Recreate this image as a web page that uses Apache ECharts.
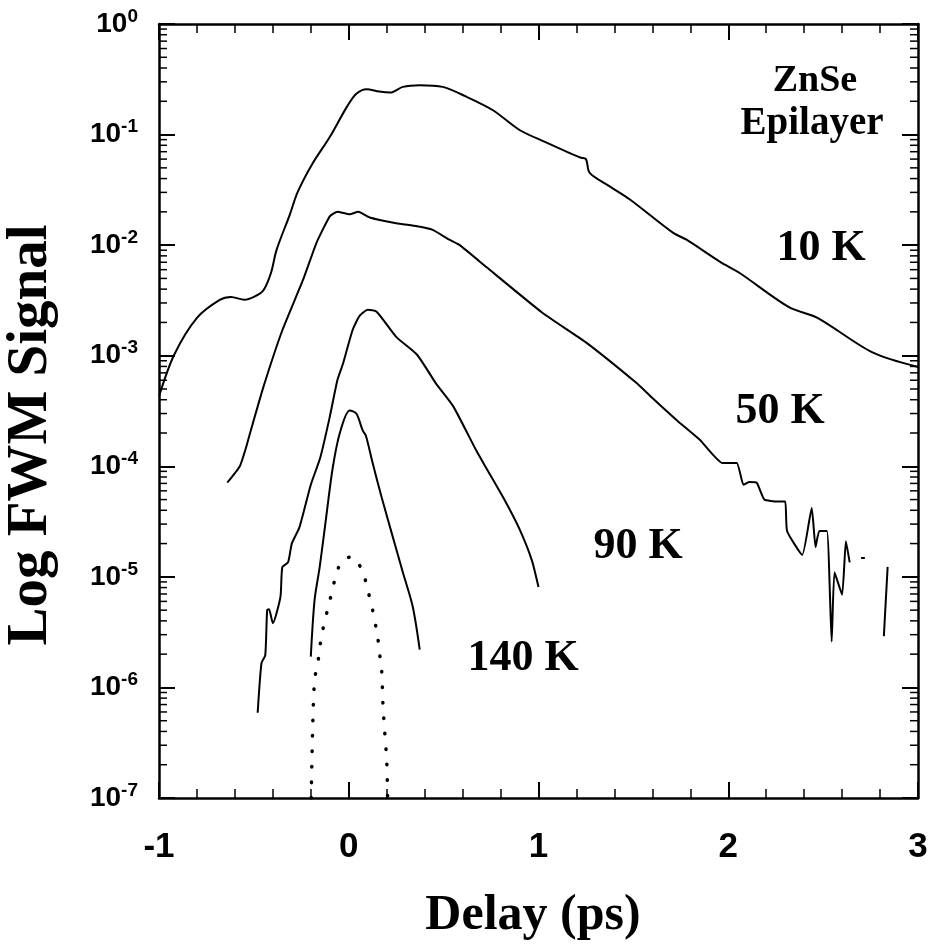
<!DOCTYPE html>
<html>
<head>
<meta charset="utf-8">
<script src="https://cdn.jsdelivr.net/npm/echarts@6/dist/echarts.min.js"></script>
<style>
html,body{margin:0;padding:0;background:#fff;}
#chart{width:931px;height:951px;}
</style>
</head>
<body>
<div id="chart"></div>
<script>
// ---- data (delay in ps, FWM signal) ----
const x10K = [-1.00,-0.92,-0.80,-0.68,-0.62,-0.55,-0.50,-0.45,-0.41,-0.38,-0.31,-0.27,-0.19,-0.10,-0.01,0.04,0.095,0.16,0.22,0.285,0.374,0.495,0.62,0.76,0.90,1.04,1.22,1.25,1.27,1.375,1.48,1.71,1.78,1.955,2.06,2.32,2.47,2.76,3.00];
const y10K = [4.3e-4,1.02e-3,2.2e-3,3.2e-3,3.4e-3,3.2e-3,3.4e-3,3.9e-3,5.6e-3,9.1e-3,1.9e-2,3.0e-2,5.5e-2,9.5e-2,1.78e-1,2.34e-1,2.57e-1,2.45e-1,2.4e-1,2.7e-1,2.8e-1,2.7e-1,2.2e-1,1.66e-1,1.1e-1,8.5e-2,6.2e-2,6.0e-2,4.5e-2,3.4e-2,2.6e-2,1.29e-2,1.12e-2,7.1e-3,5.6e-3,2.75e-3,2.2e-3,1.07e-3,7.9e-4];

const x50K = [-0.64,-0.574,-0.54,-0.52,-0.45,-0.35,-0.24,-0.17,-0.10,-0.06,0.005,0.05,0.11,0.25,0.36,0.44,0.53,0.585,0.727,1.02,1.25,1.52,1.59,1.73,1.85,1.97,2.045,2.08,2.11,2.15,2.19,2.26,2.30,2.31,2.39,2.44,2.46,2.48,2.52,2.545,2.56,2.60,2.62,2.64,2.67,2.70,2.72,2.77,2.82,2.84];
const y50K = [7.1e-5,1.0e-4,1.5e-4,2.0e-4,5.2e-4,1.7e-3,4.9e-3,1.05e-2,1.82e-2,2.0e-2,1.9e-2,2.0e-2,1.78e-2,1.58e-2,1.48e-2,1.38e-2,1.12e-2,1.0e-2,6.3e-3,2.45e-3,1.32e-3,5.6e-4,4.3e-4,2.6e-4,1.74e-4,1.07e-4,1.07e-4,6.8e-5,7.2e-5,7.1e-5,5.0e-5,4.8e-5,4.8e-5,2.6e-5,1.58e-5,4.2e-5,1.86e-5,2.6e-5,2.6e-5,2.6e-6,1.1e-5,6.9e-6,2.1e-5,1.35e-5,null,1.48e-5,1.48e-5,null,2.9e-6,1.23e-5];

const x90K = [-0.48,-0.46,-0.44,-0.43,-0.42,-0.40,-0.36,-0.35,-0.32,-0.30,-0.26,-0.20,-0.15,-0.10,-0.06,-0.03,0.02,0.058,0.10,0.147,0.25,0.36,0.46,0.55,0.67,0.73,0.82,0.90,0.965,1.00];
const y90K = [5.9e-7,1.66e-6,1.95e-6,5.0e-6,5.1e-6,3.8e-6,6.6e-6,1.23e-5,1.35e-5,2.0e-5,2.8e-5,6.8e-5,1.2e-4,2.8e-4,6.0e-4,8.5e-4,1.7e-3,2.3e-3,2.6e-3,2.5e-3,1.48e-3,1.02e-3,5.6e-4,3.5e-4,1.41e-4,9.3e-5,5.0e-5,2.7e-5,1.41e-5,8.1e-6];

const x140K = [-0.20,-0.18,-0.153,-0.116,-0.084,-0.047,0.005,0.04,0.074,0.09,0.126,0.174,0.226,0.285,0.337,0.374];
const y140K = [1.9e-6,6.2e-6,1.23e-5,3.8e-5,9.8e-5,2.0e-4,3.2e-4,3.0e-4,2.1e-4,1.9e-4,1.07e-4,5.2e-5,2.5e-5,1.1e-5,5.4e-6,2.2e-6];

const xDot = [-0.198,-0.19,-0.18,-0.163,-0.153,-0.137,-0.116,-0.095,-0.074,-0.047,-0.011,0.021,0.074,0.10,0.126,0.153,0.163,0.174,0.18,0.19,0.20,0.205];
const yDot = [1.0e-7,4.4e-7,1.17e-6,1.66e-6,2.3e-6,3.3e-6,4.7e-6,6.6e-6,9.3e-6,1.29e-5,1.48e-5,1.51e-5,1.1e-5,7.6e-6,5.0e-6,2.8e-6,2.0e-6,1.38e-6,7.2e-7,3.9e-7,2.2e-7,1.0e-7];

const xTicks = [-1, 0, 1, 2, 3];
const yMin = 1e-7, yMax = 1;
const curveLabels = ['10 K', '50 K', '90 K', '140 K'];

// minor tick values on the log axis (2..9 per decade)
const minorVals = [];
for (let e = -7; e < 0; e++) for (let m = 2; m <= 9; m++) minorVals.push(m * Math.pow(10, e));

function pairs(xs, ys) { return xs.map((x, i) => [x, ys[i] === null ? '-' : ys[i]]); }

const serif = '"Liberation Serif","Times New Roman",serif';
const sans = '"Liberation Sans",Arial,sans-serif';

const chart = echarts.init(document.getElementById('chart'), null, {renderer: 'canvas'});

const lineBase = (name, data, smooth) => ({
  name, type: 'line', data, showSymbol: false, symbol: 'none', connectNulls: false, smooth: smooth,
  lineStyle: {color: '#000', width: 2}, silent: true, z: 3
});

const xAxisCommon = {
  type: 'value', min: xTicks[0], max: xTicks[xTicks.length - 1], interval: 1,
  axisLine: {show: true, onZero: false, lineStyle: {color: '#000', width: 2.5}},
  axisTick: {show: true, inside: true, length: 16, lineStyle: {color: '#000', width: 2}},
  minorTick: {show: true, splitNumber: 5, length: 9, lineStyle: {color: '#000', width: 1.5}},
  splitLine: {show: false}, minorSplitLine: {show: false}
};
const yAxisCommon = {
  type: 'log', logBase: 10, min: yMin, max: yMax, splitNumber: 7,
  axisLine: {show: true, onZero: false, lineStyle: {color: '#000', width: 2.5}},
  axisTick: {show: true, inside: true, length: 16, lineStyle: {color: '#000', width: 2}},
  splitLine: {show: false}
};

chart.setOption({
  animation: false,
  backgroundColor: '#fff',
  grid: {left: 159, right: 13, top: 24, bottom: 153, containLabel: false},
  xAxis: [
    Object.assign({}, xAxisCommon, {
      position: 'bottom',
      axisLabel: {show: true, margin: 32, fontFamily: sans, fontWeight: 'bold', fontSize: 35, color: '#000',
        formatter: v => (v < 0 ? '-' + Math.abs(v) : String(v))}
    }),
    Object.assign({}, xAxisCommon, {position: 'top', axisLabel: {show: false}})
  ],
  yAxis: [
    Object.assign({}, yAxisCommon, {
      position: 'left',
      axisLabel: {
        show: true, margin: 21, color: '#000',
        formatter: v => '{b|10}{s|' + Math.round(Math.log10(v)) + '}',
        rich: {
          b: {fontFamily: sans, fontWeight: 'bold', fontSize: 28, lineHeight: 34, color: '#000', verticalAlign: 'middle'},
          s: {fontFamily: sans, fontWeight: 'bold', fontSize: 19, lineHeight: 19, color: '#000', verticalAlign: 'top'}
        }
      }
    }),
    Object.assign({}, yAxisCommon, {position: 'right', axisLabel: {show: false}})
  ],
  series: [
    lineBase(curveLabels[0], pairs(x10K, y10K), 0.3),
    lineBase(curveLabels[1], pairs(x50K, y50K), 0.15),
    lineBase(curveLabels[2], pairs(x90K, y90K), 0.2),
    lineBase(curveLabels[3], pairs(x140K, y140K), 0.3),
    {
      name: 'dotted', type: 'line', data: pairs(xDot, yDot), showSymbol: false, symbol: 'none', smooth: 0.3,
      lineStyle: {color: '#000', width: 3.5, type: [0.5, 15], cap: 'round'}, silent: true, z: 3
    },
    {
      name: 'minorTicks', type: 'custom', silent: true, z: 4, clip: false,
      data: minorVals.map(v => [0, v]),
      encode: {x: 0, y: 1},
      renderItem: function (params, api) {
        const cs = params.coordSys;
        const y = api.coord([0, api.value(1)])[1];
        const st = {stroke: '#000', lineWidth: 1.5};
        return {type: 'group', children: [
          {type: 'line', shape: {x1: cs.x, y1: y, x2: cs.x + 8, y2: y}, style: st},
          {type: 'line', shape: {x1: cs.x + cs.width - 8, y1: y, x2: cs.x + cs.width, y2: y}, style: st}
        ]};
      }
    }
  ],
  graphic: [
    {type: 'text', x: 815, y: 81, style: {text: 'ZnSe', font: 'bold 38px ' + serif, fill: '#000', textAlign: 'center', textVerticalAlign: 'middle'}},
    {type: 'text', x: 812, y: 124, style: {text: 'Epilayer', font: 'bold 39px ' + serif, fill: '#000', textAlign: 'center', textVerticalAlign: 'middle'}},
    {type: 'text', x: 821, y: 249, style: {text: curveLabels[0], font: 'bold 44px ' + serif, fill: '#000', textAlign: 'center', textVerticalAlign: 'middle'}},
    {type: 'text', x: 780, y: 412, style: {text: curveLabels[1], font: 'bold 44px ' + serif, fill: '#000', textAlign: 'center', textVerticalAlign: 'middle'}},
    {type: 'text', x: 638, y: 547, style: {text: curveLabels[2], font: 'bold 44px ' + serif, fill: '#000', textAlign: 'center', textVerticalAlign: 'middle'}},
    {type: 'text', x: 523, y: 659, style: {text: curveLabels[3], font: 'bold 44px ' + serif, fill: '#000', textAlign: 'center', textVerticalAlign: 'middle'}},
    {type: 'text', x: 533, y: 916, style: {text: 'Delay (ps)', font: 'bold 50px ' + serif, fill: '#000', textAlign: 'center', textVerticalAlign: 'middle'}},
    {type: 'text', x: 31, y: 435, rotation: Math.PI / 2, style: {text: 'Log FWM Signal', font: 'bold 57px ' + serif, fill: '#000', textAlign: 'center', textVerticalAlign: 'middle'}}
  ]
});
</script>
</body>
</html>
